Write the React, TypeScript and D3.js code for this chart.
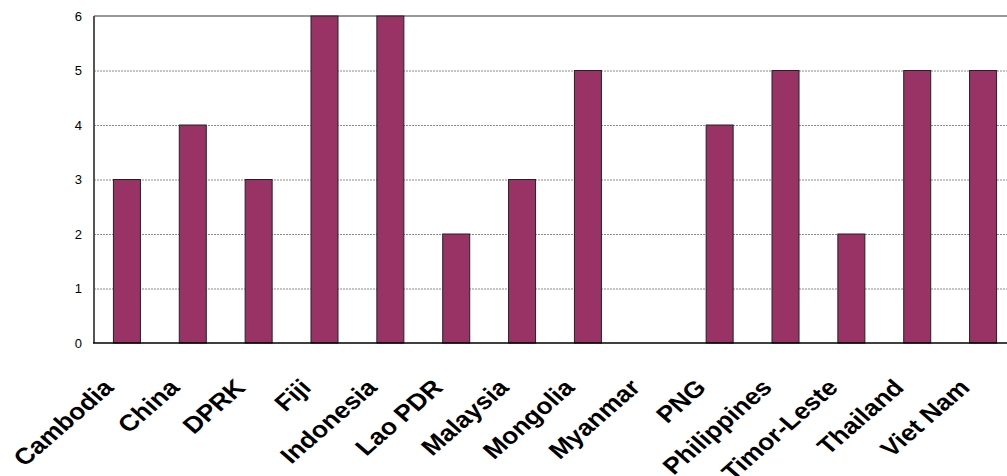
import { useEffect, useRef } from "react";
import * as d3 from "d3";

const countries = [
  "Cambodia",
  "China",
  "DPRK",
  "Fiji",
  "Indonesia",
  "Lao PDR",
  "Malaysia",
  "Mongolia",
  "Myanmar",
  "PNG",
  "Philippines",
  "Timor-Leste",
  "Thailand",
  "Viet Nam",
];
const counts = [3, 4, 3, 6, 6, 2, 3, 5, 0, 4, 5, 2, 5, 5];
const yTicks = [0, 1, 2, 3, 4, 5, 6];

const width = 1030;
const height = 476;

const App = () => {
  const chartRef = useRef<SVGSVGElement>(null);

  useEffect(() => {
    const svg = d3.select(chartRef.current);
    svg.selectAll("*").remove();

    const left = 94;
    const right = 1016;
    const top = 16;
    const bottom = 343;

    const xScale = d3
      .scaleBand<string>()
      .domain(countries)
      .range([left, right])
      .paddingInner(0.59)
      .paddingOuter(0.295);

    const yScale = d3.scaleLinear().domain([0, 6]).range([bottom, top]);

    // grid horizontal
    svg
      .append("g")
      .selectAll("line")
      .data(yTicks.filter((d) => d > 0 && d < 6))
      .enter()
      .append("line")
      .attr("x1", left)
      .attr("x2", width)
      .attr("y1", (d) => yScale(d) + 0.5)
      .attr("y2", (d) => yScale(d) + 0.5)
      .attr("stroke", "#8a8a8a")
      .attr("stroke-width", 1)
      .attr("stroke-dasharray", "2,1");

    // borda superior
    svg
      .append("line")
      .attr("x1", left)
      .attr("x2", width)
      .attr("y1", yScale(6))
      .attr("y2", yScale(6))
      .attr("stroke", "#999999")
      .attr("stroke-width", 2);

    // barras
    svg
      .selectAll("rect.bar")
      .data(counts)
      .enter()
      .append("rect")
      .attr("class", "bar")
      .attr("x", (_, i) => xScale(countries[i])!)
      .attr("y", (d) => yScale(d))
      .attr("width", xScale.bandwidth())
      .attr("height", (d) => bottom - yScale(d))
      .attr("fill", "#993366")
      .attr("stroke", (d) => (d > 0 ? "#222222" : "none"))
      .attr("stroke-width", 1);

    // eixo y
    svg
      .append("line")
      .attr("x1", left)
      .attr("x2", left)
      .attr("y1", top)
      .attr("y2", bottom)
      .attr("stroke", "#555555")
      .attr("stroke-width", 2);

    // eixo x
    svg
      .append("line")
      .attr("x1", left - 1)
      .attr("x2", width)
      .attr("y1", bottom)
      .attr("y2", bottom)
      .attr("stroke", "#000000")
      .attr("stroke-width", 1.5);

    // rótulos y
    svg
      .append("g")
      .selectAll("text")
      .data(yTicks)
      .enter()
      .append("text")
      .attr("x", 82)
      .attr("y", (d) => yScale(d))
      .attr("dy", "0.35em")
      .attr("text-anchor", "end")
      .attr("font-family", "'Liberation Sans', Arial, sans-serif")
      .attr("font-size", 13)
      .attr("fill", "#000")
      .text((d) => d);

    // rótulos x (45° esticado na horizontal, como no original)
    svg
      .append("g")
      .selectAll("text")
      .data(countries)
      .enter()
      .append("text")
      .attr("transform", (d) => {
        const cx = xScale(d)! + xScale.bandwidth() / 2 - 12;
        return `translate(${cx},389) scale(1.15,1) rotate(-45)`;
      })
      .attr("text-anchor", "end")
      .attr("font-family", "'Liberation Sans', Arial, sans-serif")
      .attr("font-weight", "bold")
      .attr("font-size", 23)
      .attr("fill", "#000")
      .text((d) => d);
  }, []);

  return (
    <div style={{ position: "fixed", left: 0, top: 0, right: 0, bottom: 0, overflow: "hidden", background: "#fff" }}>
      <svg ref={chartRef} width={width} height={height} style={{ display: "block" }} />
    </div>
  );
};

export default App;
